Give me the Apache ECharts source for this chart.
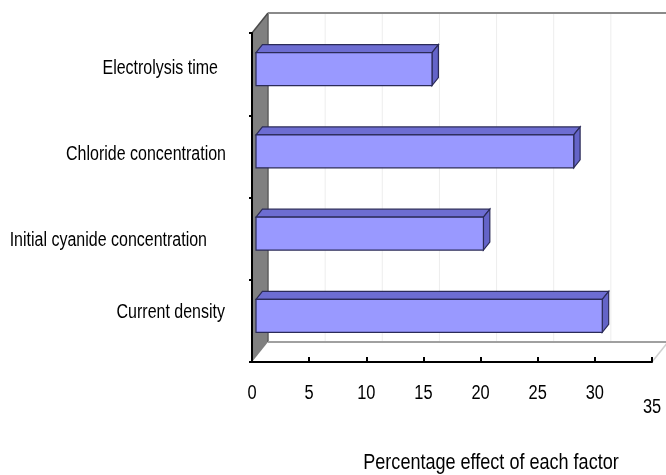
<!DOCTYPE html>
<html>
<head>
<meta charset="utf-8">
<script src="https://cdn.jsdelivr.net/npm/echarts@6/dist/echarts.min.js"></script>
<style>
  html, body { margin: 0; padding: 0; background: #ffffff; }
  #chart { width: 666px; height: 475px; }
</style>
</head>
<body>
<div id="chart"></div>
<script>
// Factors, listed bottom to top
const categories = ['Current density', 'Initial cyanide concentration', 'Chloride concentration', 'Electrolysis time'];
// Percentage effect of each factor
const effectValues = [30.3, 19.9, 27.8, 15.4];
// Value axis ticks
const tickValues = [0, 5, 10, 15, 20, 25, 30, 35];
const axisTitle = 'Percentage effect of each factor';

const FONT = '"Liberation Sans", Arial, sans-serif';
const NARROW = 0.82; // horizontal squeeze giving a narrow sans face

// Oblique projection of the full depth of the 3-D box (front plane -> back plane)
const DEPTH = [16, -20];
const BAR_FRONT = 0.25;
const BAR_BACK = 0.65;

function shift(p, d) {
  return [p[0] + DEPTH[0] * d, p[1] + DEPTH[1] * d];
}

function line(a, b, stroke, width) {
  return { type: 'line', shape: { x1: a[0], y1: a[1], x2: b[0], y2: b[1] },
           style: { stroke: stroke, lineWidth: width } };
}

function narrowText(str, x, y, size, align) {
  return {
    type: 'text', x: x, y: y, scaleX: NARROW,
    style: { text: str, x: 0, y: 0, fill: '#000', fontSize: size, fontFamily: FONT,
             align: align, verticalAlign: 'middle' }
  };
}

// Walls, floor and back gridlines of the 3-D plot area
function renderWalls(params, api) {
  const cs = params.coordSys;
  const x0 = cs.x, x1 = cs.x + cs.width;
  const yTop = cs.y, yBot = cs.y + cs.height;
  const children = [];

  tickValues.forEach(function (v) {
    if (v === tickValues[0]) return;
    const x = api.coord([v, 0])[0];
    children.push(line(shift([x, yTop], 1), shift([x, yBot], 1), '#ededed', 1));
  });

  const lt = [x0, yTop], lb = [x0, yBot];
  const blt = shift(lt, 1), blb = shift(lb, 1);
  children.push({ type: 'polygon', shape: { points: [lt, blt, blb, lb] },
                  style: { fill: '#808080' } });
  children.push(line(blt, blb, '#5e5e5e', 1.5));
  children.push(line(lt, blt, '#4a4a4a', 1.5));
  children.push(line(blt, shift([x1, yTop], 1), '#8a8a8a', 2));
  children.push(line(blb, shift([x1, yBot], 1), '#a0a0a0', 2));
  children.push(line([x1, yBot], shift([x1, yBot], 1), '#d0d0d0', 1.5));

  return { type: 'group', children: children };
}

// Category labels, value labels and the axis title
const catLabelShift = [[1, -8], [19, 1.5], [0, -1.5], [8, -6]]; // [extra right gap, vertical nudge]
function renderLabels(params, api) {
  const cs = params.coordSys;
  const yBot = cs.y + cs.height;
  const children = [];

  categories.forEach(function (name, i) {
    const p = api.coord([0, i]);
    const s = catLabelShift[i];
    children.push(narrowText(name, p[0] - 26 - s[0], p[1] + s[1], 19.5, 'right'));
  });

  tickValues.forEach(function (v, i) {
    const x = api.coord([v, 0])[0];
    const drop = (i === tickValues.length - 1) ? 14 : 0;
    children.push(narrowText(String(v), x, yBot + 31 + drop, 20, 'center'));
  });

  children.push(narrowText(axisTitle, cs.x + cs.width / 2 + 39, yBot + 101, 22, 'center'));
  return { type: 'group', children: children };
}

// 3-D horizontal bar: front face, top face and end face
function renderBar(params, api) {
  const val = api.value(0);
  const cat = api.value(1);
  const p0 = api.coord([0, cat]);
  const p1 = api.coord([val, cat]);
  const band = api.size([0, 1])[1];
  const h = band / 2.5;
  const depth = BAR_BACK - BAR_FRONT;

  const fTL = shift([p0[0], p0[1] - h / 2], BAR_FRONT);
  const fTR = shift([p1[0], p1[1] - h / 2], BAR_FRONT);
  const fBR = shift([p1[0], p1[1] + h / 2], BAR_FRONT);
  const fBL = shift([p0[0], p0[1] + h / 2], BAR_FRONT);
  const bTL = shift(fTL, depth), bTR = shift(fTR, depth), bBR = shift(fBR, depth);

  const edge = '#2b2b58';
  return {
    type: 'group',
    children: [
      { type: 'polygon', shape: { points: [fTL, fTR, bTR, bTL] },
        style: { fill: '#6d6dd2', stroke: edge, lineWidth: 1.2 } },
      { type: 'polygon', shape: { points: [fTR, bTR, bBR, fBR] },
        style: { fill: '#6464c8', stroke: edge, lineWidth: 1.2 } },
      { type: 'polygon', shape: { points: [fTL, fTR, fBR, fBL] },
        style: { fill: '#9999ff', stroke: edge, lineWidth: 1.2 } }
    ]
  };
}

const chart = echarts.init(document.getElementById('chart'), null, { renderer: 'canvas' });

const barData = effectValues.map(function (v, i) { return [v, i]; });

chart.setOption({
  backgroundColor: '#ffffff',
  animation: false,
  textStyle: { fontFamily: FONT },
  grid: { left: 252, right: 14, top: 33, bottom: 113, containLabel: false, outerBoundsMode: 'none' },
  xAxis: {
    type: 'value',
    min: 0,
    max: 35,
    interval: 5,
    axisLine: { show: true, lineStyle: { color: '#000', width: 2 } },
    axisTick: { show: true, inside: true, length: 5, lineStyle: { color: '#000', width: 2 } },
    splitLine: { show: false },
    axisLabel: { show: false },
    z: 5
  },
  yAxis: {
    type: 'category',
    data: categories,
    axisLine: { show: true, lineStyle: { color: '#000', width: 2 } },
    axisTick: { show: true, length: 3, lineStyle: { color: '#000', width: 2 } },
    splitLine: { show: false },
    axisLabel: { show: false },
    z: 5
  },
  series: [
    {
      type: 'custom',
      name: 'walls',
      renderItem: renderWalls,
      data: [[0, 0]],
      encode: { x: 0, y: 1 },
      clip: false,
      silent: true,
      z: -1
    },
    {
      type: 'custom',
      name: 'effect',
      renderItem: renderBar,
      data: barData,
      encode: { x: 0, y: 1 },
      clip: false,
      z: 10
    },
    {
      type: 'custom',
      name: 'labels',
      renderItem: renderLabels,
      data: [[0, 0]],
      encode: { x: 0, y: 1 },
      clip: false,
      silent: true,
      z: 6
    }
  ]
});
</script>
</body>
</html>
